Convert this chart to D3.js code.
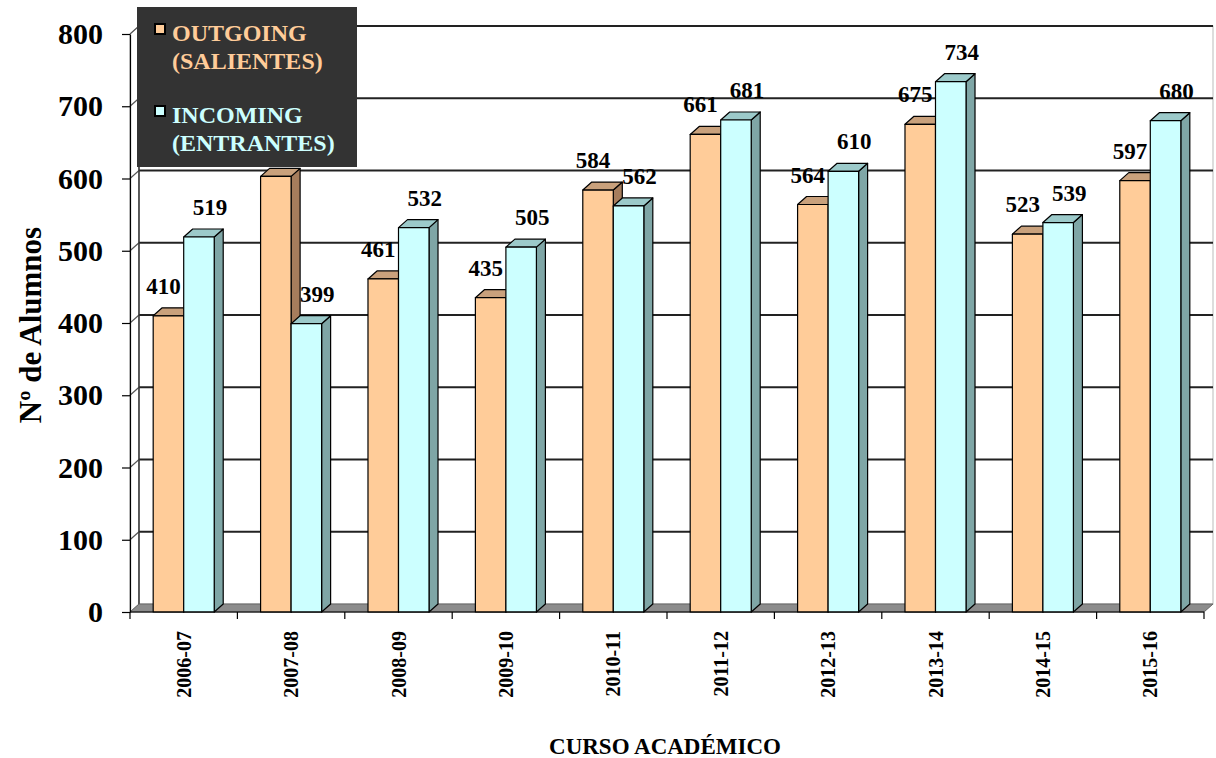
<!DOCTYPE html>
<html>
<head>
<meta charset="utf-8">
<script src="https://cdn.jsdelivr.net/npm/d3@7"></script>
<style>
  html, body { margin: 0; padding: 0; background: #fff; }
  svg text { font-family: "Liberation Serif", "Times New Roman", serif; font-weight: bold; }
</style>
</head>
<body>
<div id="chart"></div>
<script>
const categories = ['2006-07', '2007-08', '2008-09', '2009-10', '2010-11', '2011-12', '2012-13', '2013-14', '2014-15', '2015-16'];
const outgoing = [410, 603, 461, 435, 584, 661, 564, 675, 523, 597];
const incoming = [519, 399, 532, 505, 562, 681, 610, 734, 539, 680];
const seriesNames = ['OUTGOING', 'INCOMING'];
const yTicks = [0, 100, 200, 300, 400, 500, 600, 700, 800];

const width = 1216, height = 758;
const plotLeft = 130, plotRight = 1204, plotTop = 34, plotBottom = 612;
const dx = 9, dy = -8; // depth of the 3d box

const colors = {
    OUTGOING: { front: '#FFCC99', top: '#C9A17C', side: '#A67D5C' },
    INCOMING: { front: '#CCFFFF', top: '#9CCACA', side: '#7FA6A6' }
};

const svg = d3.select('#chart').append('svg')
    .attr('width', width)
    .attr('height', height);

let x = d3.scaleBand().domain(categories).range([plotLeft, plotRight]).padding(0);
let x1 = d3.scaleBand().domain(seriesNames).range([0, x.bandwidth()]).paddingInner(0).paddingOuter(0.76);
let y = d3.scaleLinear().domain([0, 800]).range([plotBottom, plotTop]);

// walls
svg.append('polygon')
    .attr('points', [[plotLeft, plotBottom], [plotLeft, plotTop], [plotLeft + dx, plotTop + dy], [plotLeft + dx, plotBottom + dy]].join(' '))
    .attr('fill', '#fff').attr('stroke', '#999');
svg.append('rect')
    .attr('x', plotLeft + dx).attr('y', plotTop + dy)
    .attr('width', plotRight - plotLeft).attr('height', plotBottom - plotTop)
    .attr('fill', '#fff').attr('stroke', '#bbb');

// gridlines on back wall + side wall diagonals
yTicks.filter(d => d > 0).forEach(v => {
    svg.append('line')
        .attr('x1', plotLeft + dx).attr('x2', plotRight + dx)
        .attr('y1', y(v) + dy).attr('y2', y(v) + dy)
        .attr('stroke', '#222').attr('stroke-width', 2);
    svg.append('line')
        .attr('x1', plotLeft).attr('x2', plotLeft + dx)
        .attr('y1', y(v)).attr('y2', y(v) + dy)
        .attr('stroke', '#555').attr('stroke-width', 1.2);
});
svg.append('line')
    .attr('x1', plotLeft + dx).attr('x2', plotLeft + dx)
    .attr('y1', plotTop + dy).attr('y2', plotBottom + dy)
    .attr('stroke', '#333').attr('stroke-width', 1.5);

// floor
svg.append('polygon')
    .attr('points', [[plotLeft, plotBottom], [plotLeft + dx, plotBottom + dy], [plotRight + dx, plotBottom + dy], [plotRight, plotBottom]].join(' '))
    .attr('fill', '#8c8c8c').attr('stroke', '#666');

// value labels go under the legend (one of them is hidden by it)
const labels = svg.append('g');

const drawBar = (x0, w, v, c) => {
    let yt = y(v);
    let g = svg.append('g').attr('stroke', '#000').attr('stroke-width', 1.2).attr('stroke-linejoin', 'round');
    g.append('polygon')
        .attr('points', [[x0 + w, yt], [x0 + w + dx, yt + dy], [x0 + w + dx, plotBottom + dy], [x0 + w, plotBottom]].join(' '))
        .attr('fill', c.side);
    g.append('polygon')
        .attr('points', [[x0, yt], [x0 + dx, yt + dy], [x0 + w + dx, yt + dy], [x0 + w, yt]].join(' '))
        .attr('fill', c.top);
    g.append('rect')
        .attr('x', x0).attr('y', yt)
        .attr('width', w).attr('height', plotBottom - yt)
        .attr('fill', c.front);
};

categories.forEach((cat, i) => {
    [outgoing[i], incoming[i]].forEach((v, s) => {
        let name = seriesNames[s];
        let x0 = x(cat) + x1(name);
        drawBar(x0, x1.bandwidth(), v, colors[name]);
        let cx = x0 + x1.bandwidth() / 2 + (s === 0 ? -5 : 11);
        labels.append('text')
            .attr('x', cx).attr('y', y(v) - 22)
            .attr('text-anchor', 'middle')
            .attr('font-size', 23)
            .text(v);
    });
});
labels.raise();

// y axis
svg.append('g')
    .attr('transform', `translate(${plotLeft},0)`)
    .call(d3.axisLeft(y).tickValues(yTicks).tickSize(8).tickSizeOuter(0).tickPadding(19))
    .call(g => g.selectAll('text').attr('font-size', 30).attr('fill', '#000'))
    .call(g => g.selectAll('line, path').attr('stroke', '#000').attr('stroke-width', 1.2));

// x axis, ticks between categories
let xAxis = svg.append('g');
xAxis.append('line')
    .attr('x1', plotLeft).attr('x2', plotRight)
    .attr('y1', plotBottom).attr('y2', plotBottom)
    .attr('stroke', '#000').attr('stroke-width', 1.2);
xAxis.selectAll('.tk')
    .data(categories.map(c => x(c)).concat([plotRight]))
    .enter().append('line')
    .attr('x1', d => d).attr('x2', d => d)
    .attr('y1', plotBottom).attr('y2', plotBottom + 7)
    .attr('stroke', '#000').attr('stroke-width', 1.2);
xAxis.selectAll('.lbl')
    .data(categories)
    .enter().append('text')
    .attr('transform', d => `translate(${x(d) + x.bandwidth() / 2},631) rotate(-90)`)
    .attr('text-anchor', 'end')
    .attr('dy', '0.35em')
    .attr('font-size', 20)
    .text(d => d);

// axis titles
svg.append('text')
    .attr('transform', 'translate(30,325) rotate(-90)')
    .attr('text-anchor', 'middle')
    .attr('dy', '0.35em')
    .attr('font-size', 31)
    .text('Nº de Alumnos');
svg.append('text')
    .attr('x', 665).attr('y', 754)
    .attr('text-anchor', 'middle')
    .attr('font-size', 23)
    .text('CURSO ACADÉMICO');

// legend
let legend = svg.append('g');
legend.append('rect')
    .attr('x', 137).attr('y', 7).attr('width', 220).attr('height', 160)
    .attr('fill', '#333');
const legendItems = [
    { name: 'OUTGOING', lines: ['OUTGOING', '(SALIENTES)'], y: 33 },
    { name: 'INCOMING', lines: ['INCOMING', '(ENTRANTES)'], y: 115 }
];
legendItems.forEach(it => {
    legend.append('rect')
        .attr('x', 155).attr('y', it.y - 9).attr('width', 10).attr('height', 10)
        .attr('fill', colors[it.name].front).attr('stroke', '#000').attr('stroke-width', 2);
    it.lines.forEach((t, j) => {
        legend.append('text')
            .attr('x', 172).attr('y', it.y + j * 28 + 8)
            .attr('font-size', 24)
            .attr('fill', colors[it.name].front)
            .text(t);
    });
});
</script>
</body>
</html>
